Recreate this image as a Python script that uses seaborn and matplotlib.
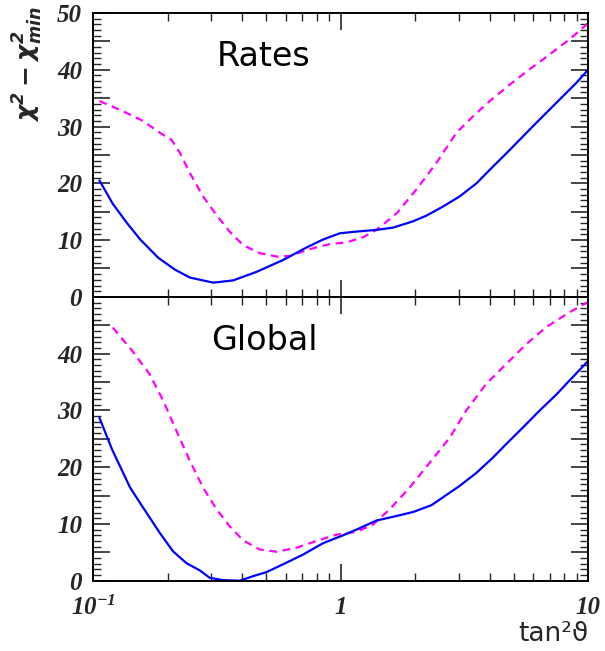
import numpy as np
import pandas as pd
import matplotlib
matplotlib.use("Agg")
import matplotlib.pyplot as plt
import matplotlib.ticker as mticker
import seaborn as sns

# --- data (x = tan^2 theta, y = chi^2 - chi^2_min) ---
rates_solid_x = [0.106, 0.120, 0.137, 0.155, 0.183, 0.214, 0.246, 0.306, 0.368, 0.457,
                 0.586, 0.728, 0.849, 0.993, 1.16, 1.40, 1.63, 1.96, 2.22, 2.59,
                 3.03, 3.54, 4.01, 4.83, 6.00, 7.45, 8.97, 10.0]
rates_solid_y = [20.5, 16.4, 13.0, 10.1, 6.9, 4.8, 3.4, 2.5, 2.9, 4.4,
                 6.5, 8.7, 10.1, 11.2, 11.5, 11.8, 12.2, 13.3, 14.3, 15.9,
                 17.7, 20.0, 22.4, 25.9, 30.1, 34.2, 37.7, 40.0]

rates_dash_x = [0.106, 0.132, 0.159, 0.186, 0.207, 0.224, 0.246, 0.278, 0.315, 0.356,
                0.404, 0.471, 0.551, 0.624, 0.750, 0.904, 1.057, 1.233, 1.396, 1.683,
                2.023, 2.438, 2.938, 3.428, 4.009, 4.831, 5.808, 6.998, 8.433, 10.0]
rates_dash_y = [34.5, 32.7, 31.0, 28.9, 27.7, 25.4, 21.8, 17.7, 14.4, 11.5,
                9.1, 7.7, 7.1, 7.2, 8.4, 9.3, 9.6, 10.5, 11.8, 14.7,
                18.9, 23.6, 28.9, 31.8, 34.5, 37.4, 40.1, 42.7, 45.4, 48.2]

global_solid_x = [0.106, 0.119, 0.141, 0.159, 0.186, 0.210, 0.238, 0.270, 0.296, 0.335,
                  0.392, 0.443, 0.501, 0.586, 0.705, 0.849, 1.023, 1.159, 1.396, 1.683,
                  1.963, 2.328, 2.594, 3.027, 3.540, 4.130, 4.677, 5.458, 6.383, 7.447,
                  8.433, 10.0]
global_solid_y = [28.7, 23.2, 16.4, 12.9, 8.4, 5.2, 3.1, 1.8, 0.5, 0.1,
                  0.0, 0.8, 1.5, 2.9, 4.6, 6.6, 8.0, 9.0, 10.6, 11.4,
                  12.1, 13.3, 14.7, 16.7, 19.0, 21.7, 24.1, 27.0, 30.0, 32.8,
                  35.3, 38.7]

global_dash_x = [0.120, 0.145, 0.169, 0.192, 0.217, 0.246, 0.278, 0.315, 0.356, 0.404,
                 0.471, 0.551, 0.662, 0.798, 0.962, 1.159, 1.352, 1.581, 1.901, 2.291,
                 2.761, 3.221, 3.882, 4.677, 5.636, 6.792, 8.433, 10.0]
global_dash_y = [44.6, 40.3, 36.4, 31.7, 26.4, 21.1, 16.4, 12.6, 9.6, 7.1,
                 5.5, 5.1, 5.8, 7.0, 8.1, 8.6, 9.9, 12.6, 16.4, 20.8,
                 25.2, 30.0, 34.7, 38.2, 41.7, 44.7, 47.3, 49.1]

panel_names = ["Rates", "Global"]

sns.set_style("ticks")
# tick labels in bold italic serif (ROOT style), other texts set explicitly
plt.rcParams["font.family"] = ["Liberation Serif", "DejaVu Sans"]
plt.rcParams["font.style"] = "italic"
plt.rcParams["font.weight"] = "bold"
plt.rcParams["mathtext.fontset"] = "custom"
plt.rcParams["mathtext.bf"] = "Liberation Serif:bold:italic"

fig = plt.figure(figsize=(6.05, 6.51), dpi=100)
ax_top = fig.add_axes([0.154, 0.544, 0.818, 0.436])
ax_bot = fig.add_axes([0.154, 0.108, 0.818, 0.436], sharex=ax_top)

panels = [
    (ax_top, rates_solid_x, rates_solid_y, rates_dash_x, rates_dash_y),
    (ax_bot, global_solid_x, global_solid_y, global_dash_x, global_dash_y),
]

for i, (ax, sx, sy, dx, dy) in enumerate(panels):
    solid = pd.DataFrame({"x": sx, "y": sy})
    dash = pd.DataFrame({"x": dx, "y": dy})
    sns.lineplot(data=dash, x="x", y="y", ax=ax, color="#ff00ff",
                 linewidth=1.6, linestyle=(0, (3.5, 2.5)), sort=False)
    sns.lineplot(data=solid, x="x", y="y", ax=ax, color="#0000ff",
                 linewidth=1.6, sort=False)

    ax.set_xscale("log")
    ax.set_xlim(0.1, 10)
    ax.set_ylim(0, 50)
    ax.set_xlabel("")
    ax.set_ylabel("")

    for sp in ax.spines.values():
        sp.set_visible(True)
        sp.set_linewidth(1.4)
        sp.set_color("black")

    # y ticks: labels on every 10, medium ticks at 5, small at 1
    ax.yaxis.set_major_locator(mticker.MultipleLocator(5))
    ax.yaxis.set_minor_locator(mticker.MultipleLocator(1))
    hide_top = (i == 1)
    ax.yaxis.set_major_formatter(mticker.FuncFormatter(
        lambda v, p, h=hide_top: "" if (int(round(v)) % 10 != 0 or (h and v > 45)) else f"{int(round(v))}"))

    ax.xaxis.set_major_locator(mticker.LogLocator(base=10, numticks=5))
    ax.xaxis.set_minor_locator(mticker.LogLocator(base=10, subs=np.arange(2, 10), numticks=20))

    ax.tick_params(which="major", direction="in", length=12, width=1.2,
                   top=True, right=True, bottom=True, left=True, pad=8,
                   labelsize=18)
    ax.tick_params(which="minor", direction="in", length=6, width=1.0,
                   top=True, right=True, bottom=True, left=True)

    ax.text(0.49, 42.3, panel_names[i], ha="center", va="center",
            fontsize=24, family="DejaVu Sans", style="normal",
            weight="normal", color="black")

plt.setp(ax_top.get_xticklabels(), visible=False)
ax_bot.xaxis.set_major_formatter(mticker.FuncFormatter(
    lambda v, p: r"$\mathbf{10^{-1}}$" if abs(v - 0.1) < 1e-6 else f"{v:g}"))
ax_bot.tick_params(axis="x", which="major", pad=11)

fig.text(0.046, 0.902, r"$\mathbf{\chi^{2}-\chi^{2}_{\mathrm{min}}}$", rotation=90,
         ha="center", va="center", fontsize=18, math_fontfamily="dejavusans")
fig.text(0.915, 0.026, "tan²ϑ", ha="center", va="center",
         fontsize=19, family="DejaVu Sans", style="normal", weight="normal")

fig.savefig("out.png", dpi=100)
